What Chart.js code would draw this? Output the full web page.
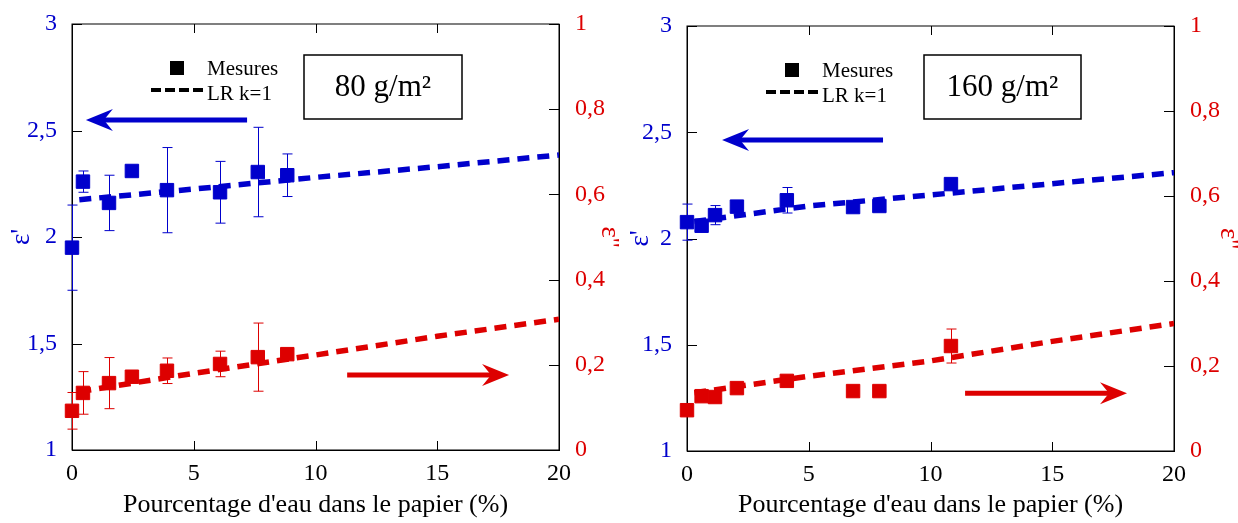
<!DOCTYPE html>
<html>
<head>
<meta charset="utf-8">
<script src="https://cdn.jsdelivr.net/npm/chart.js@4"></script>
<style>
  body { margin: 0; background: #fff; }
  .wrap { position: absolute; top: 0; width: 619px; height: 523px; }
</style>
</head>
<body>
<div class="wrap" style="left:0"><canvas id="c80" width="619" height="523"></canvas></div>
<div class="wrap" style="left:619px"><canvas id="c160" width="619" height="523"></canvas></div>
<script>
const x80 = [0, 0.45, 1.52, 2.46, 3.9, 6.08, 7.63, 8.84];
const epsR80 = [1.95, 2.26, 2.16, 2.31, 2.22, 2.21, 2.305, 2.29];
const epsRErr80 = [0.2, 0.05, 0.13, 0, 0.2, 0.145, 0.21, 0.1];
const epsI80 = [0.092, 0.134, 0.157, 0.172, 0.186, 0.202, 0.218, 0.225];
const epsIErr80 = [0.043, 0.05, 0.06, 0.012, 0.03, 0.03, 0.08, 0];

const x160 = [0, 0.6, 1.15, 2.05, 4.1, 6.82, 7.9, 10.84];
const epsR160 = [2.077, 2.06, 2.11, 2.15, 2.18, 2.148, 2.153, 2.256];
const epsRErr160 = [0.085, 0, 0.045, 0, 0.06, 0, 0, 0];
const epsI160 = [0.096, 0.129, 0.127, 0.148, 0.165, 0.141, 0.141, 0.247];
const epsIErr160 = [0, 0, 0, 0, 0, 0, 0, 0.04];

// modele LR k=1
const fitX = [0.3, 5, 10, 15, 20];
const fitR80 = [2.175, 2.225, 2.28, 2.33, 2.385];
const fitI80 = [0.137, 0.18, 0.223, 0.267, 0.307];
const fitR160 = [2.08, 2.153, 2.205, 2.258, 2.31];
const fitI160 = [0.137, 0.176, 0.212, 0.258, 0.30];

// fleches [x debut, x fin, y] en unites des axes
const arrowR80 = [7.19, 0.57, 2.549];
const arrowI80 = [11.3, 17.95, 0.176];
const arrowR160 = [8.05, 1.44, 2.464];
const arrowI160 = [11.42, 18.07, 0.136];

const BLUE = "#0000cc";
const RED = "#dd0000";
const FONT = "Liberation Serif";

const pts = (xs, ys) => xs.map((x, i) => ({ x: x, y: ys[i] }));
const comma = (v) => String(Math.round(v * 10) / 10).replace(".", ",");

function arrow(ctx, x0, x1, y, color) {
    const dir = x1 > x0 ? 1 : -1;
    ctx.save();
    ctx.strokeStyle = color;
    ctx.fillStyle = color;
    ctx.lineWidth = 5;
    ctx.beginPath();
    ctx.moveTo(x0, y);
    ctx.lineTo(x1 - dir * 14, y);
    ctx.stroke();
    ctx.beginPath();
    ctx.moveTo(x1, y);
    ctx.lineTo(x1 - dir * 27, y - 11);
    ctx.lineTo(x1 - dir * 18, y);
    ctx.lineTo(x1 - dir * 27, y + 11);
    ctx.closePath();
    ctx.fill();
    ctx.restore();
}

const decor = {
    id: "decor",
    beforeDatasetsDraw(chart, args, opts) {
        const ctx = chart.ctx;
        const a = chart.chartArea;
        const sx = chart.scales.x, sy = chart.scales.y, sy2 = chart.scales.y2;
        ctx.save();
        // cadre et graduations vers l'interieur
        ctx.strokeStyle = "#000";
        ctx.lineWidth = 1;
        ctx.strokeRect(a.left, a.top, a.right - a.left, a.bottom - a.top);
        ctx.beginPath();
        sx.ticks.forEach((t) => {
            const p = Math.round(sx.getPixelForValue(t.value)) + 0.5;
            ctx.moveTo(p, a.bottom); ctx.lineTo(p, a.bottom - 9);
            ctx.moveTo(p, a.top); ctx.lineTo(p, a.top + 9);
        });
        sy.ticks.forEach((t) => {
            const p = Math.round(sy.getPixelForValue(t.value)) + 0.5;
            ctx.moveTo(a.left, p); ctx.lineTo(a.left + 10, p);
        });
        sy2.ticks.forEach((t) => {
            const p = Math.round(sy2.getPixelForValue(t.value)) + 0.5;
            ctx.moveTo(a.right, p); ctx.lineTo(a.right - 10, p);
        });
        ctx.stroke();

        // barres d'erreur
        chart.data.datasets.forEach((ds) => {
            if (!ds.errors) return;
            const ys = chart.scales[ds.yAxisID];
            ctx.strokeStyle = ds.borderColor;
            ctx.lineWidth = 1;
            ctx.beginPath();
            ds.data.forEach((d, i) => {
                const e = ds.errors[i];
                if (!e) return;
                const px = Math.round(sx.getPixelForValue(d.x)) + 0.5;
                const top = ys.getPixelForValue(d.y + e);
                const bot = ys.getPixelForValue(d.y - e);
                ctx.moveTo(px, top); ctx.lineTo(px, bot);
                ctx.moveTo(px - 5, top); ctx.lineTo(px + 5, top);
                ctx.moveTo(px - 5, bot); ctx.lineTo(px + 5, bot);
            });
            ctx.stroke();
        });
        ctx.restore();
    },
    afterDatasetsDraw(chart, args, opts) {
        const ctx = chart.ctx;
        const a = chart.chartArea;
        const sx = chart.scales.x, sy = chart.scales.y, sy2 = chart.scales.y2;
        arrow(ctx, sx.getPixelForValue(opts.arrowR[0]), sx.getPixelForValue(opts.arrowR[1]),
            sy.getPixelForValue(opts.arrowR[2]), BLUE);
        arrow(ctx, sx.getPixelForValue(opts.arrowI[0]), sx.getPixelForValue(opts.arrowI[1]),
            sy2.getPixelForValue(opts.arrowI[2]), RED);

        ctx.save();
        // legende
        const lx = a.left, ly = a.top;
        ctx.fillStyle = "#000";
        ctx.fillRect(lx + 98, ly + 37, 14, 14);
        ctx.strokeStyle = "#000";
        ctx.lineWidth = 4;
        ctx.setLineDash([10, 4]);
        ctx.beginPath();
        ctx.moveTo(lx + 79, ly + 66); ctx.lineTo(lx + 132, ly + 66);
        ctx.stroke();
        ctx.setLineDash([]);
        ctx.font = "21px '" + FONT + "'";
        ctx.textBaseline = "alphabetic";
        ctx.fillText("Mesures", lx + 135, ly + 51);
        ctx.fillText("LR k=1", lx + 135, ly + 76);

        // cartouche grammage
        const b = opts.box;
        ctx.lineWidth = 1.5;
        ctx.strokeRect(lx + b[0], ly + b[1], b[2] - b[0], b[3] - b[1]);
        ctx.font = "31px '" + FONT + "'";
        ctx.textAlign = "center";
        ctx.textBaseline = "middle";
        ctx.fillText(opts.label, lx + (b[0] + b[2]) / 2, ly + (b[1] + b[3]) / 2 + 1);
        ctx.restore();
    }
};

function makeChart(id, xs, er, erErr, ei, eiErr, fr, fi, sizes, opts) {
    return new Chart(document.getElementById(id), {
        type: "scatter",
        data: {
            datasets: [
                {
                    data: pts(fitX, fr), yAxisID: "y", showLine: true, pointRadius: 0,
                    borderColor: BLUE, borderWidth: 5.5, borderDash: [12, 8]
                },
                {
                    data: pts(fitX, fi), yAxisID: "y2", showLine: true, pointRadius: 0,
                    borderColor: RED, borderWidth: 5.5, borderDash: [12, 8]
                },
                {
                    data: pts(xs, er), errors: erErr, yAxisID: "y", pointStyle: "rect", clip: false,
                    pointRadius: 9.5, backgroundColor: BLUE, borderColor: BLUE, borderWidth: 1
                },
                {
                    data: pts(xs, ei), errors: eiErr, yAxisID: "y2", pointStyle: "rect", clip: false,
                    pointRadius: 9.5, backgroundColor: RED, borderColor: RED, borderWidth: 1
                }
            ]
        },
        options: {
            responsive: false,
            animation: false,
            layout: { padding: { top: sizes.top } },
            plugins: { legend: { display: false }, tooltip: { enabled: false }, decor: opts },
            scales: {
                x: {
                    type: "linear", min: 0, max: 20,
                    ticks: { stepSize: 5, color: "#000", padding: 1, font: { family: FONT, size: 24 } },
                    grid: { display: false },
                    border: { color: "#000" },
                    title: {
                        display: true, text: "Pourcentage d'eau dans le papier (%)", color: "#000",
                        font: { family: FONT, size: 26 }, padding: { top: 0, bottom: 2 }
                    },
                    afterFit: (s) => { s.height = 523 - sizes.bottom; }
                },
                y: {
                    position: "left", min: 1, max: 3,
                    ticks: { stepSize: 0.5, color: BLUE, padding: 7, font: { family: FONT, size: 24 }, callback: comma },
                    grid: { display: false },
                    border: { color: "#000" },
                    title: {
                        display: true, text: "\u03b5'", color: BLUE,
                        font: { family: FONT, size: 27, lineHeight: 1 }, padding: { top: 8, bottom: 0 }
                    },
                    afterFit: (s) => { s.width = sizes.left; }
                },
                y2: {
                    position: "right", min: 0, max: 1,
                    ticks: { stepSize: 0.2, color: RED, padding: 8, font: { family: FONT, size: 24 }, callback: comma },
                    grid: { display: false },
                    border: { color: "#000" },
                    title: {
                        display: true, text: "\u03b5''", color: RED,
                        font: { family: FONT, size: 27, lineHeight: 0.7 }, padding: { top: 0, bottom: 0 }
                    },
                    afterFit: (s) => { s.width = 619 - sizes.right; }
                }
            }
        },
        plugins: [decor]
    });
}

makeChart("c80", x80, epsR80, epsRErr80, epsI80, epsIErr80, fitR80, fitI80,
    { left: 72, right: 559, top: 24, bottom: 450 },
    { arrowR: arrowR80, arrowI: arrowI80, box: [232, 31, 390, 95], label: "80 g/m\u00b2" });

makeChart("c160", x160, epsR160, epsRErr160, epsI160, epsIErr160, fitR160, fitI160,
    { left: 68, right: 555, top: 26, bottom: 451 },
    { arrowR: arrowR160, arrowI: arrowI160, box: [237, 29, 394, 93], label: "160 g/m\u00b2" });
</script>
</body>
</html>
